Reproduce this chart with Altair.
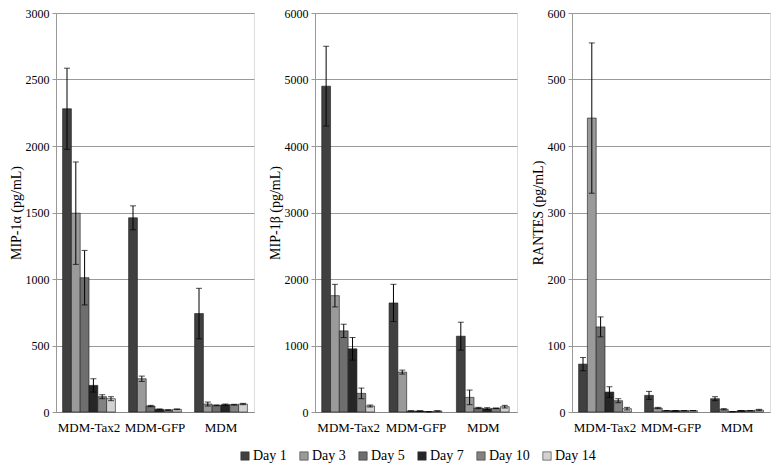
import altair as alt
import pandas as pd

groups = ["MDM-Tax2", "MDM-GFP", "MDM"]
days = ["Day 1", "Day 3", "Day 5", "Day 7", "Day 10", "Day 14"]
colors = ["#404040", "#9a9a9a", "#6e6e6e", "#262626", "#828282", "#d2d2d2"]

# MIP-1alpha values (pg/mL), rows = groups, cols = days
mip1a = [[2280, 1495, 1010, 200, 115, 100],
         [1460, 250, 45, 20, 15, 20],
         [740, 60, 50, 55, 55, 60]]
mip1a_err = [[305, 385, 205, 50, 15, 15],
             [90, 20, 5, 3, 2, 3],
             [190, 15, 3, 5, 3, 5]]

mip1b = [[4900, 1750, 1220, 950, 280, 90],
         [1640, 600, 15, 15, 5, 15],
         [1140, 220, 60, 50, 55, 80]]
mip1b_err = [[600, 170, 100, 170, 80, 15],
             [280, 30, 3, 3, 2, 3],
             [210, 110, 10, 15, 5, 20]]

rantes = [[72, 442, 128, 30, 17, 5],
          [25, 6, 2, 2, 2, 2],
          [20, 4, 0.5, 2, 2, 3]]
rantes_err = [[10, 113, 15, 8, 3, 2],
              [6, 1, 0.3, 0.3, 0.3, 0.3],
              [3, 1, 0.2, 0.3, 0.3, 1]]

font = "Liberation Serif, Times New Roman, serif"


def make_df(vals, errs):
    rows = []
    for gi, g in enumerate(groups):
        for di, d in enumerate(days):
            v = vals[gi][di]
            e = errs[gi][di]
            rows.append({"group": g, "day": d, "value": v,
                         "lo": max(v - e, 0), "hi": v + e})
    return pd.DataFrame(rows)


def panel(vals, errs, title, ymax, step, w):
    df = make_df(vals, errs)
    base = alt.Chart(df).encode(
        x=alt.X("group:N", sort=groups, title=None,
                scale=alt.Scale(paddingInner=0.2, paddingOuter=0.1),
                axis=alt.Axis(labelAngle=0, ticks=False, domainColor="#888888",
                              labelFontSize=13, labelPadding=9, labelFont=font,
                              labelColor="#000000")),
        xOffset=alt.XOffset("day:N", sort=days, scale=alt.Scale(domain=days)),
    )
    y_enc = alt.Y("value:Q", title=title,
                  scale=alt.Scale(domain=[0, ymax], nice=False),
                  axis=alt.Axis(values=list(range(0, ymax + 1, step)),
                                format="d",
                                grid=True, gridColor="#999999", gridWidth=1,
                                domainColor="#999999", tickColor="#999999",
                                tickSize=4, labelFontSize=12, labelFont=font,
                                labelColor="#000000", labelPadding=3,
                                titleFont=font, titleFontSize=14,
                                titleFontWeight="normal", titleColor="#000000",
                                titlePadding=2))
    bars = base.mark_bar(stroke="#1a1a1a", strokeWidth=0.6).encode(
        y=y_enc,
        color=alt.Color("day:N", sort=days,
                        scale=alt.Scale(domain=days, range=colors),
                        legend=alt.Legend(title=None, orient="none",
                                          direction="horizontal", columns=6,
                                          legendX=182, legendY=436,
                                          labelFont=font, labelFontSize=14,
                                          labelColor="#000000",
                                          symbolType="square", symbolSize=70,
                                          symbolStrokeColor="#333333",
                                          symbolStrokeWidth=0.6,
                                          columnPadding=10, labelOffset=1)),
    )
    rule = base.mark_rule(color="#000000", strokeWidth=1).encode(
        y=alt.Y("lo:Q"), y2="hi:Q")
    cap_hi = base.mark_tick(color="#000000", size=6, thickness=1).encode(
        y=alt.Y("hi:Q"))
    cap_lo = base.mark_tick(color="#000000", size=6, thickness=1).encode(
        y=alt.Y("lo:Q"))
    return alt.layer(bars, rule, cap_hi, cap_lo).properties(width=w, height=399)


p1 = panel(mip1a, mip1a_err, "MIP-1α  (pg/mL)", 3000, 500, 198)
p2 = panel(mip1b, mip1b_err, "MIP-1β (pg/mL)", 6000, 1000, 202)
p3 = panel(rantes, rantes_err, "RANTES (pg/mL)", 600, 100, 198)

chart = alt.hconcat(p1, p2, p3, spacing=12).properties(
    padding={"left": 0, "top": -2, "right": 0, "bottom": 0}
).configure_view(stroke=None).configure(background="#ffffff", font=font)

chart.save("out.html", embed_options={"renderer": "svg", "actions": False})
